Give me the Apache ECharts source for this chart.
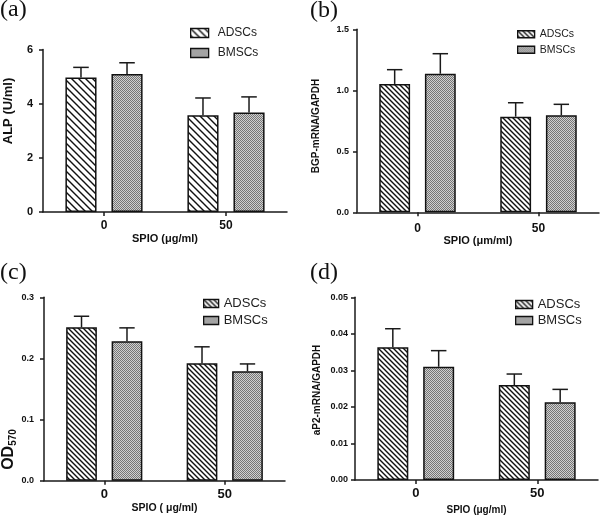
<!DOCTYPE html>
<html><head><meta charset="utf-8">
<script src="https://cdn.jsdelivr.net/npm/echarts@6/dist/echarts.min.js"></script>
<style>html,body{margin:0;padding:0;background:#fff}#c{width:600px;height:516px}</style>
</head><body><div id="c"></div>
<script>
// ---- data ----
const categories = ['0', '50'];
const seriesNames = ['ADSCs', 'BMSCs'];
// (a) ALP (U/ml)
const alpADSCs = [4.97, 3.57];
const alpADSCsErr = [5.34, 4.21];
const alpBMSCs = [5.10, 3.67];
const alpBMSCsErr = [5.51, 4.25];
// (b) BGP-mRNA/GAPDH
const bgpADSCs = [1.052, 0.784];
const bgpADSCsErr = [1.169, 0.898];
const bgpBMSCs = [1.136, 0.795];
const bgpBMSCsErr = [1.300, 0.885];
// (c) OD570
const odADSCs = [0.251, 0.192];
const odADSCsErr = [0.269, 0.219];
const odBMSCs = [0.228, 0.179];
const odBMSCsErr = [0.250, 0.191];
// (d) aP2-mRNA/GAPDH
const ap2ADSCs = [0.0363, 0.0260];
const ap2ADSCsErr = [0.0414, 0.0290];
const ap2BMSCs = [0.0310, 0.0213];
const ap2BMSCsErr = [0.0354, 0.0248];
// y axis ticks
const yTicksA = {min: 0, max: 6, interval: 2};
const yTicksB = {min: 0, max: 1.5, interval: 0.5};
const yTicksC = {min: 0, max: 0.3, interval: 0.1};
const yTicksD = {min: 0, max: 0.05, interval: 0.01};

// ---- patterns ----
function hatch(step) {
  const c = document.createElement('canvas');
  c.width = step; c.height = step;
  const g = c.getContext('2d');
  g.fillStyle = '#fff'; g.fillRect(0, 0, step, step);
  g.strokeStyle = '#111'; g.lineWidth = 1.4;
  g.beginPath();
  g.moveTo(-1, -1); g.lineTo(step + 1, step + 1);
  g.moveTo(-1, step - 1); g.lineTo(1, step + 1);
  g.moveTo(step - 1, -1); g.lineTo(step + 1, 1);
  g.stroke();
  return {image: c, repeat: 'repeat'};
}
function checker() {
  const c = document.createElement('canvas');
  c.width = 2; c.height = 2;
  const g = c.getContext('2d');
  g.fillStyle = '#d0d0d0'; g.fillRect(0, 0, 2, 2);
  g.fillStyle = '#767676'; g.fillRect(0, 0, 1, 1); g.fillRect(1, 1, 1, 1);
  return {image: c, repeat: 'repeat'};
}
const checkFill = checker();

const FONT = "'Liberation Sans', Arial, sans-serif";
const BW = 0.255, GAP = 0.48;

const panels = [
  {grid: {left: 43, top: 49.5, width: 244, height: 162.5}, y: yTicksA, d: [alpADSCs, alpBMSCs], e: [alpADSCsErr, alpBMSCsErr],
   hatch: 7, ylab: 11, xlab: 12, ylm: 10, xlm: 8, xname: 'SPIO (μg/ml)', xnameSize: 11, xgap: 21,
   legend: {left: 190, top: 26, itemWidth: 18, itemHeight: 9, itemGap: 6, fs: 12, pad: 4}},
  {grid: {left: 357, top: 29.3, width: 242, height: 183}, y: yTicksB, d: [bgpADSCs, bgpBMSCs], e: [bgpADSCsErr, bgpBMSCsErr],
   hatch: 5, ylab: 9, xlab: 12, ylm: 8, xlm: 10, xname: 'SPIO (μm/ml)', xnameSize: 11, xgap: 15,
   legend: {left: 517, top: 28, itemWidth: 17, itemHeight: 7, itemGap: 3, fs: 10.5, pad: 0}},
  {grid: {left: 44, top: 297.3, width: 241, height: 183.4}, y: yTicksC, d: [odADSCs, odBMSCs], e: [odADSCsErr, odBMSCsErr],
   hatch: 5, ylab: 9, xlab: 13, ylm: 10, xlm: 7, xname: 'SPIO ( μg/ml)', xnameSize: 10.5, xgap: 22,
   legend: {left: 203, top: 296, itemWidth: 15, itemHeight: 8, itemGap: 2, fs: 13, pad: 0}},
  {grid: {left: 355, top: 297.3, width: 243, height: 183.4}, y: yTicksD, d: [ap2ADSCs, ap2BMSCs], e: [ap2ADSCsErr, ap2BMSCsErr],
   hatch: 5, ylab: 9, xlab: 13, ylm: 7, xlm: 7, xname: 'SPIO (μg/ml)', xnameSize: 10, xgap: 25,
   legend: {left: 515, top: 297, itemWidth: 17, itemHeight: 8, itemGap: 1, fs: 13, pad: 0}}
];

const option = {
  animation: false,
  backgroundColor: '#fff',
  grid: [], xAxis: [], yAxis: [], legend: [], series: [], graphic: []
};

const axisLine = {show: true, lineStyle: {color: '#1a1a1a', width: 1.5}};

panels.forEach((p, i) => {
  option.grid.push(Object.assign({containLabel: false}, p.grid));
  option.xAxis.push({
    type: 'category', gridIndex: i, data: categories,
    axisLine: axisLine,
    axisTick: {show: true, alignWithLabel: true, length: 4, lineStyle: {color: '#1a1a1a', width: 1.5}},
    axisLabel: {fontFamily: FONT, fontWeight: 'bold', fontSize: p.xlab, color: '#111', margin: p.xlm},
    name: p.xname, nameLocation: 'middle', nameGap: p.xgap,
    nameTextStyle: {fontFamily: FONT, fontWeight: 'bold', fontSize: p.xnameSize, color: '#111', verticalAlign: 'top'}
  });
  option.yAxis.push({
    type: 'value', gridIndex: i, min: p.y.min, max: p.y.max, interval: p.y.interval,
    axisLine: axisLine,
    axisTick: {show: true, length: 4, lineStyle: {color: '#1a1a1a', width: 1.5}},
    splitLine: {show: false},
    axisLabel: {fontFamily: FONT, fontWeight: 'bold', fontSize: p.ylab, color: '#111', margin: p.ylm,
      formatter: v => v.toFixed(i === 0 ? 0 : (i === 3 ? 2 : 1))}
  });
  const hf = hatch(p.hatch);
  const fills = [hf, checkFill];
  option.legend.push({
    orient: 'vertical', left: p.legend.left, top: p.legend.top, padding: 0,
    itemWidth: p.legend.itemWidth, itemHeight: p.legend.itemHeight, itemGap: p.legend.itemGap,
    selectedMode: false,
    textStyle: {fontFamily: FONT, fontSize: p.legend.fs, color: '#222', lineHeight: p.legend.fs + 2,
      padding: [0, 0, 0, p.legend.pad]},
    data: seriesNames.map((n, k) => ({name: n, icon: 'rect',
      itemStyle: {color: fills[k], borderColor: '#111', borderWidth: 1.3}}))
  });
  seriesNames.forEach((n, k) => {
    option.series.push({
      type: 'bar', name: n, xAxisIndex: i, yAxisIndex: i,
      barWidth: (BW * 100) + '%', barGap: (GAP * 100) + '%',
      itemStyle: {color: fills[k], borderColor: '#111', borderWidth: 1.5},
      data: p.d[k]
    });
  });
  seriesNames.forEach((n, k) => {
    const slot = k === 0 ? -1 : 1;
    option.series.push({
      type: 'custom', name: n + ' error', xAxisIndex: i, yAxisIndex: i, z: 3,
      encode: {x: 0, y: [1, 2]},
      data: categories.map((c, j) => [j, p.d[k][j], p.e[k][j]]),
      renderItem: (params, api) => {
        const x = api.value(0);
        const b = api.coord([x, api.value(1)]);
        const t = api.coord([x, api.value(2)]);
        const bw = api.size([1, 0])[0];
        const barW = bw * BW, gap = barW * GAP;
        const cx = b[0] + slot * (barW + gap) / 2;
        const half = barW * 0.25;
        const st = {stroke: '#1a1a1a', lineWidth: 1.5};
        return {type: 'group', children: [
          {type: 'line', shape: {x1: cx, y1: b[1], x2: cx, y2: t[1]}, style: st},
          {type: 'line', shape: {x1: cx - half, y1: t[1], x2: cx + half, y2: t[1]}, style: st}
        ]};
      }
    });
  });
});

// panel letters
[['(a)', 0, -2], ['(b)', 310, -1], ['(c)', 0, 261], ['(d)', 310, 261]].forEach(l => {
  option.graphic.push({type: 'text', left: l[1], top: l[2],
    style: {text: l[0], font: "24px 'Liberation Serif', 'Times New Roman', serif", fill: '#111'}});
});
// y axis titles
const ytitles = [
  {text: 'ALP (U/ml)', x: 8, y: 111, size: 13},
  {text: 'BGP-mRNA/GAPDH', x: 316.5, y: 126, size: 10},
  {text: 'aP2-mRNA/GAPDH', x: 317, y: 390, size: 10}
];
ytitles.forEach(t => {
  option.graphic.push({type: 'text', x: t.x, y: t.y, rotation: Math.PI / 2,
    style: {text: t.text, font: "bold " + t.size + "px " + FONT, fill: '#111', align: 'center', verticalAlign: 'middle'}});
});
option.graphic.push({type: 'text', x: 9, y: 449.5, rotation: Math.PI / 2,
  style: {text: '{a|OD}{b|570}', align: 'center', verticalAlign: 'middle', fill: '#111',
    rich: {a: {fontFamily: FONT, fontWeight: 'bold', fontSize: 16, fill: '#111', lineHeight: 20},
           b: {fontFamily: FONT, fontWeight: 'bold', fontSize: 10, fill: '#111', padding: [9, 0, 0, 0], lineHeight: 20}}}});

const chart = echarts.init(document.getElementById('c'), null, {renderer: 'canvas'});
chart.setOption(option);
</script></body></html>
